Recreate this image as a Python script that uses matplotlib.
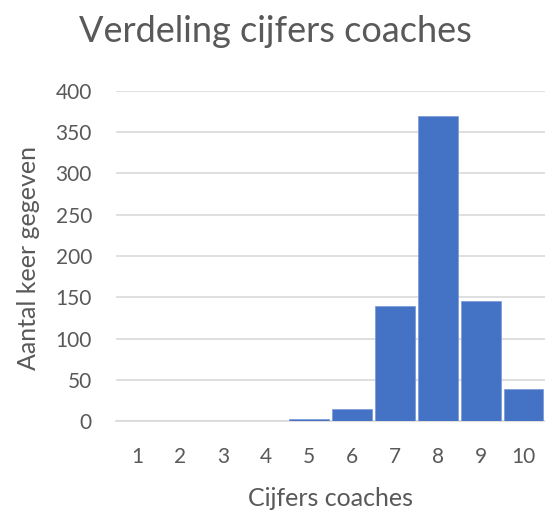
import matplotlib
matplotlib.use("Agg")
import matplotlib.pyplot as plt

categories = ["1", "2", "3", "4", "5", "6", "7", "8", "9", "10"]
counts = [0, 0, 0, 0, 3, 15, 140, 370, 146, 39]
yticks = [0, 50, 100, 150, 200, 250, 300, 350, 400]

plt.rcParams['font.family'] = ['Lato', 'DejaVu Sans']
gray = "#595959"
W, H = 545, 511

fig = plt.figure(figsize=(5.45, 5.11), dpi=100)
ax = fig.add_axes([0.212, 0.176, 0.788, 0.646])
x = list(range(len(categories)))
ax.bar(x, counts, width=0.93, color="#4472C4", edgecolor="#7f9ed8", linewidth=0.6, zorder=3)
ax.set_xlim(-0.5, len(categories) - 0.5)
ax.set_ylim(0, 400)
ax.set_yticks(yticks)
ax.set_xticks(x)
ax.set_xticklabels(categories)
ax.yaxis.grid(True, color="#d9d9d9", linewidth=1.2, zorder=0)
for s in ["top", "right", "left"]:
    ax.spines[s].set_visible(False)
ax.spines["bottom"].set_color("#d9d9d9")
ax.spines["bottom"].set_linewidth(1.2)
ax.tick_params(axis="both", length=0, labelsize=15, colors=gray)
ax.tick_params(axis="x", pad=19)
ax.tick_params(axis="y", pad=17)
fig.text(29 / W, 1 - 258 / H, "Aantal keer gegeven", rotation=90, ha="center", va="center",
         fontsize=18, color=gray)
fig.text(331 / W, 1 - 506 / H, "Cijfers coaches", ha="center", va="baseline",
         fontsize=18, color=gray)
fig.text(275 / W, 1 - 42 / H, "Verdeling cijfers coaches", ha="center", va="baseline",
         fontsize=26, color=gray)
fig.savefig("out.png", dpi=100)
